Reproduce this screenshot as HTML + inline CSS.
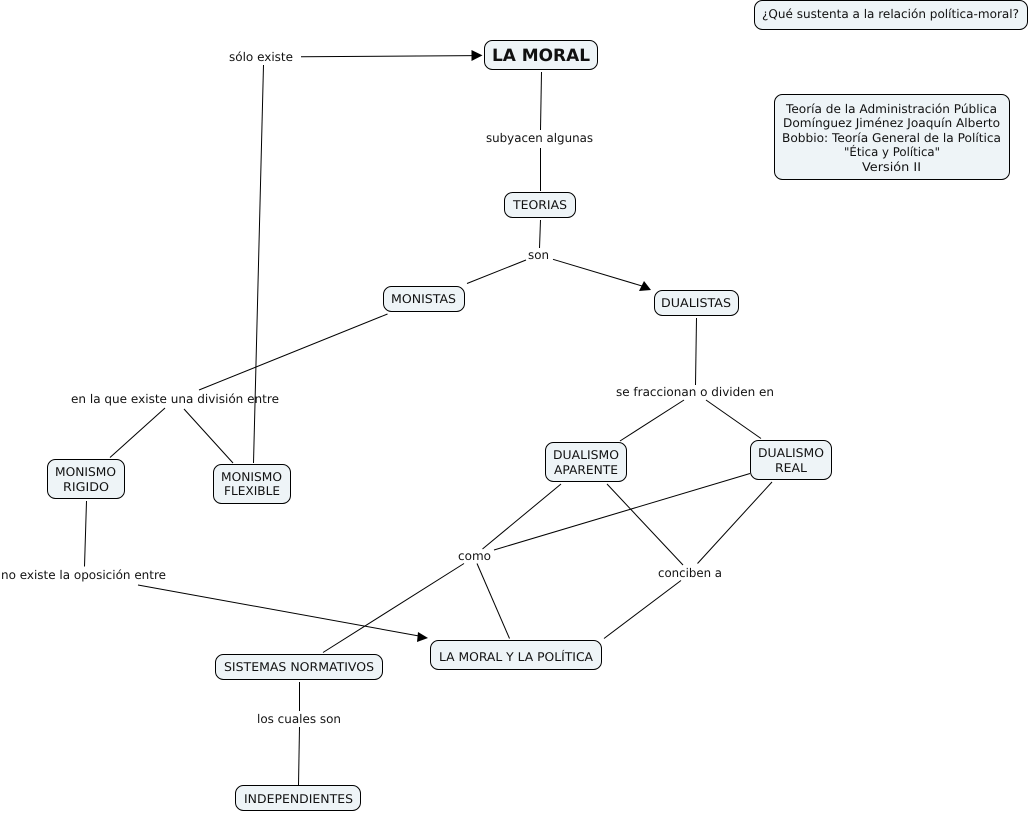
<!DOCTYPE html>
<html><head><meta charset="utf-8">
<style>
html,body{margin:0;padding:0;background:#fff}
svg{display:block}
text{font-family:"DejaVu Sans","Liberation Sans",sans-serif;font-size:12px;fill:#111;text-rendering:geometricPrecision}
rect{fill:#eef4f7;stroke:#000;stroke-width:1}
line{stroke:#000;stroke-width:1}
polygon{fill:#000}
</style></head><body>
<svg xmlns="http://www.w3.org/2000/svg" width="1031" height="814" viewBox="0 0 1031 814">
<g>
<line x1="301" y1="56.8" x2="473" y2="55.6"/><polygon points="482.5,55.4 471.5,50 471.5,61"/>
<line x1="263.5" y1="65" x2="253.5" y2="463"/>
<line x1="541.5" y1="72" x2="540.5" y2="130"/>
<line x1="540.5" y1="148" x2="540.5" y2="191"/>
<line x1="540.5" y1="220" x2="539.5" y2="248"/>
<line x1="526" y1="260" x2="467" y2="283.5"/>
<line x1="553" y1="259.3" x2="642" y2="286"/><polygon points="651,290 644,281 639,291"/>
<line x1="387.5" y1="314" x2="199" y2="390"/>
<line x1="696.5" y1="318" x2="695.5" y2="385"/>
<line x1="684" y1="400" x2="620" y2="441"/>
<line x1="706" y1="400" x2="761" y2="438.5"/>
<line x1="165" y1="408" x2="110" y2="457.5"/>
<line x1="184" y1="409" x2="233" y2="463"/>
<line x1="86.5" y1="501" x2="84.5" y2="566.5"/>
<line x1="138" y1="585" x2="419" y2="636"/><polygon points="428,638 418,632 417,642"/>
<line x1="561" y1="484" x2="482.5" y2="549"/>
<line x1="750" y1="473.5" x2="494" y2="550"/>
<line x1="607" y1="484" x2="683" y2="565"/>
<line x1="772" y1="482" x2="697.5" y2="563.5"/>
<line x1="477" y1="563.5" x2="509.5" y2="638.5"/>
<line x1="464" y1="563.5" x2="323" y2="652.5"/>
<line x1="681" y1="580.5" x2="604" y2="638.5"/>
<line x1="299.5" y1="682" x2="299.5" y2="711"/>
<line x1="299.5" y1="727" x2="298.5" y2="785"/>
</g>
<rect x="484.5" y="40.5" width="113" height="29" rx="8"/>
<rect x="754.5" y="0.5" width="273" height="29" rx="8"/>
<rect x="774.5" y="94.5" width="235" height="85" rx="8"/>
<rect x="504.5" y="192.5" width="71" height="25" rx="8"/>
<rect x="383.5" y="286.5" width="81" height="25" rx="8"/>
<rect x="654.5" y="290.5" width="84" height="25" rx="8"/>
<rect x="545.5" y="442.5" width="81" height="39" rx="8"/>
<rect x="750.5" y="440.5" width="81" height="39" rx="8"/>
<rect x="47.5" y="459.5" width="77" height="39" rx="8"/>
<rect x="213.5" y="464.5" width="77" height="39" rx="8"/>
<rect x="215.5" y="654.5" width="167" height="25" rx="8"/>
<rect x="430.5" y="640.5" width="171" height="29" rx="8"/>
<rect x="235.5" y="785.5" width="125" height="25" rx="8"/>
<g>
<text x="492" y="61" textLength="98" lengthAdjust="spacingAndGlyphs" style="font-size:17px;font-weight:bold">LA MORAL</text>
<text x="229" y="61" textLength="64" lengthAdjust="spacingAndGlyphs">sólo existe</text>
<text x="762" y="18" textLength="257" lengthAdjust="spacingAndGlyphs">¿Qué sustenta a la relación política-moral?</text>
<text x="786" y="113" textLength="211" lengthAdjust="spacingAndGlyphs">Teoría de la Administración Pública</text>
<text x="783" y="127" textLength="217" lengthAdjust="spacingAndGlyphs">Domínguez Jiménez Joaquín Alberto</text>
<text x="782" y="142" textLength="219" lengthAdjust="spacingAndGlyphs">Bobbio: Teoría General de la Política</text>
<text x="844" y="156" textLength="96" lengthAdjust="spacingAndGlyphs">"Ética y Política"</text>
<text x="862" y="171" textLength="59" lengthAdjust="spacingAndGlyphs">Versión II</text>
<text x="486" y="142" textLength="107" lengthAdjust="spacingAndGlyphs">subyacen algunas</text>
<text x="513" y="209" textLength="54" lengthAdjust="spacingAndGlyphs">TEORIAS</text>
<text x="528" y="259" textLength="21" lengthAdjust="spacingAndGlyphs">son</text>
<text x="391" y="303" textLength="65" lengthAdjust="spacingAndGlyphs">MONISTAS</text>
<text x="661" y="307" textLength="70" lengthAdjust="spacingAndGlyphs">DUALISTAS</text>
<text x="616" y="396" textLength="158" lengthAdjust="spacingAndGlyphs">se fraccionan o dividen en</text>
<text x="71" y="403" textLength="208" lengthAdjust="spacingAndGlyphs">en la que existe una división entre</text>
<text x="553" y="459" textLength="66" lengthAdjust="spacingAndGlyphs">DUALISMO</text>
<text x="554" y="474" textLength="64" lengthAdjust="spacingAndGlyphs">APARENTE</text>
<text x="758" y="457" textLength="66" lengthAdjust="spacingAndGlyphs">DUALISMO</text>
<text x="775" y="472" textLength="32" lengthAdjust="spacingAndGlyphs">REAL</text>
<text x="55" y="476" textLength="61" lengthAdjust="spacingAndGlyphs">MONISMO</text>
<text x="63" y="491" textLength="46" lengthAdjust="spacingAndGlyphs">RIGIDO</text>
<text x="221" y="481" textLength="61" lengthAdjust="spacingAndGlyphs">MONISMO</text>
<text x="224" y="495" textLength="56" lengthAdjust="spacingAndGlyphs">FLEXIBLE</text>
<text x="458" y="560" textLength="33" lengthAdjust="spacingAndGlyphs">como</text>
<text x="658" y="577" textLength="64" lengthAdjust="spacingAndGlyphs">conciben a</text>
<text x="1" y="579" textLength="165" lengthAdjust="spacingAndGlyphs">no existe la oposición entre</text>
<text x="224" y="671" textLength="150" lengthAdjust="spacingAndGlyphs">SISTEMAS NORMATIVOS</text>
<text x="439" y="661" textLength="154" lengthAdjust="spacingAndGlyphs">LA MORAL Y LA POLÍTICA</text>
<text x="257" y="723" textLength="84" lengthAdjust="spacingAndGlyphs">los cuales son</text>
<text x="244" y="803" textLength="109" lengthAdjust="spacingAndGlyphs">INDEPENDIENTES</text>
</g>
</svg>
</body></html>
